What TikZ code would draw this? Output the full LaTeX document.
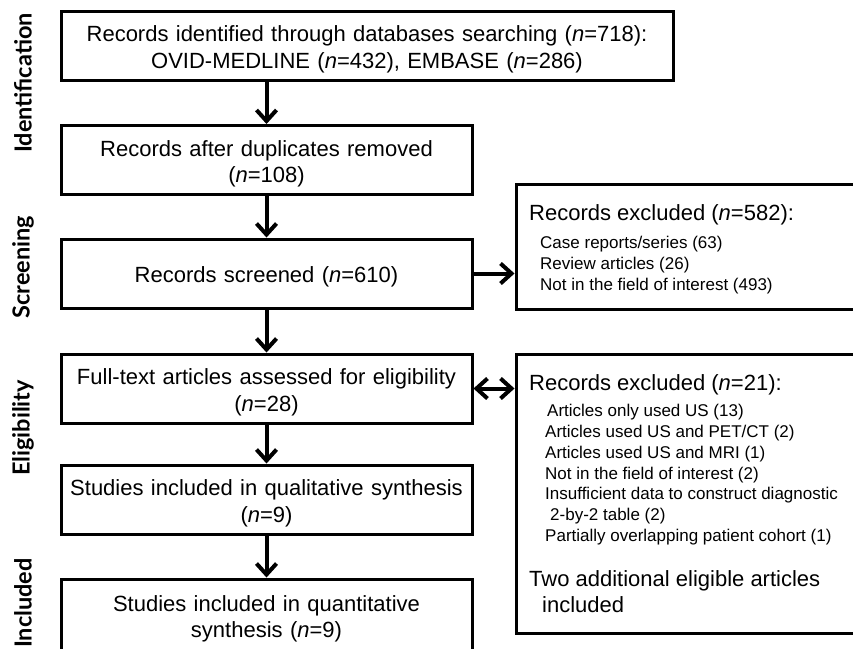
\documentclass[tikz,border=0pt]{standalone}
\usepackage{fontspec}
\setmainfont{Liberation Sans}
\newfontfamily\phasefont{Lato}
\usetikzlibrary{arrows.meta}

\begin{document}
\begin{tikzpicture}[x=1pt,y=-1pt]
    \tikzset{box/.style = {shape=rectangle,draw,line width=3pt,minimum width=411pt,minimum height=69pt,inner sep=0pt,text width=405pt,align=center,font=\fontsize{22}{26.5}\selectfont,execute at begin node={\rule{0pt}{23.5pt}}}}
    \tikzset{exbox/.style = {shape=rectangle,draw,line width=3pt,minimum width=344pt,inner sep=0pt}}
    \tikzset{extext/.style = {shape=rectangle,draw=none,inner sep=0pt,align=left,anchor=north west,font=\fontsize{17}{20.8}\selectfont}}
    \tikzset{phase/.style = {shape=rectangle,draw=none,rotate=90,font=\phasefont\bfseries\fontsize{23.5}{26}\selectfont}}
    \tikzset{edge/.style = {line width=4pt,-{Straight Barb[length=11pt,width=20pt]}}}
    \tikzset{dedge/.style = {line width=4pt,{Straight Barb[length=11pt,width=20pt]}-{Straight Barb[length=11pt,width=20pt]}}}

    \useasboundingbox (0,0) rectangle (853,648);

    % phases
    \node[phase] (lident) at (23,83) {Identification};
    \node[phase] (lscreen) at (23,267) {Screening};
    \node[phase] (lelig) at (23,428) {Eligibility};
    \node[phase] (lincl) at (23,603) {Included};

    % main column
    \node[box,minimum width=612pt,text width=606pt] (ident) at (367,45.5) {Records identified through databases searching (\textit{n}=718):\\OVID-MEDLINE (\textit{n}=432), EMBASE (\textit{n}=286)};
    \node[box] (dedup) at (266.5,160) {Records after duplicates removed\\(\textit{n}=108)};
    \node[box] (screen) at (266.5,273.5) {Records screened (\textit{n}=610)};
    \node[box] (fulltext) at (266.5,388.5) {Full-text articles assessed for eligibility\\(\textit{n}=28)};
    \node[box] (qual) at (266.5,499.5) {Studies included in qualitative synthesis\\(\textit{n}=9)};
    \node[box,minimum height=72pt] (quant) at (266.5,615) {Studies included in quantitative\\synthesis (\textit{n}=9)};

    % exclusions
    \node[exbox,minimum height=125pt] (excl1) at (688,246.5) {};
    \node[exbox,minimum height=279pt] (excl2) at (688,493.5) {};
    \node[extext] (excl1txt) at (529,204) {{\fontsize{22}{26}\selectfont Records excluded (\textit{n}=582):}\\[7.5pt]
        \hspace*{11pt}Case reports/series (63)\\
        \hspace*{11pt}Review articles (26)\\
        \hspace*{11pt}Not in the field of interest (493)};
    \node[extext] (excl2txt) at (529,374) {{\fontsize{22}{26}\selectfont Records excluded (\textit{n}=21):}\\[5.7pt]
        \hspace*{18pt}Articles only used US (13)\\
        \hspace*{16pt}Articles used US and PET/CT (2)\\
        \hspace*{16pt}Articles used US and MRI (1)\\
        \hspace*{16pt}Not in the field of interest (2)\\
        \hspace*{16pt}Insufficient data to construct diagnostic\\
        \hspace*{21pt}2-by-2 table (2)\\
        \hspace*{16pt}Partially overlapping patient cohort (1)\\[24pt]
        {\fontsize{22}{26}\selectfont Two additional eligible articles}\\[5.2pt]
        {\fontsize{22}{26}\selectfont\hspace*{13pt}included}};

    % arrows
    \draw[edge] (ident.south -| dedup) -- (dedup);
    \draw[edge] (dedup) -- (screen);
    \draw[edge] (screen) -- (fulltext);
    \draw[edge] (fulltext) -- (qual);
    \draw[edge] (qual) -- (quant);
    \draw[edge] (screen.east) -- (screen.east -| excl1.west);
    \draw[dedge] (fulltext.east) -- (fulltext.east -| excl2.west);
\end{tikzpicture}
\end{document}
